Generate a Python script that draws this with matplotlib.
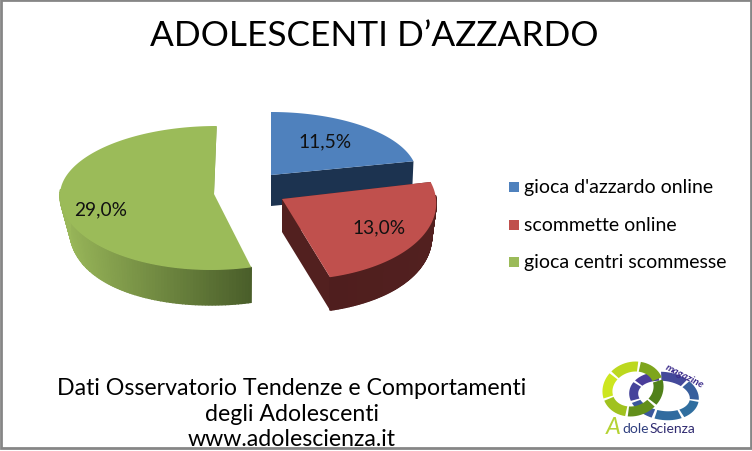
"""Adolescenti d'azzardo: exploded 3D-look pie drawn on a pixel canvas."""

import numpy as np
from matplotlib import pyplot as plt
from matplotlib.colors import to_rgb
from matplotlib.patches import Polygon, Rectangle

plt.rcParams["font.family"] = ["Lato", "DejaVu Sans"]

labels = ["gioca d'azzardo online", "scommette online", "gioca centri scommesse"]
values = [11.5, 13.0, 29.0]
value_labels = ["11,5%", "13,0%", "29,0%"]
top_colors = ["#4f81bd", "#c0504d", "#9bbb59"]
title = "ADOLESCENTI D\u2019AZZARDO"
source_lines = ["Dati Osservatorio Tendenze e Comportamenti",
                "degli Adolescenti", "www.adolescienza.it"]

# per-slice geometry: apex x, y, rx, ry up, ry down, shear, depth, rim shrink
geom = [
    (271, 176, 146, 63, 64, 0.00, 31, 0.99),
    (282, 200, 154, 78, 81, 0.10, 33, 0.97),
    (214, 195, 154, 68, 76, -0.04, 35, 0.935),
]
# side shading: left colour, right colour
side_cols = [("#1c3350", "#1c3350"), ("#4f1e1e", "#52201f"), ("#9ab85a", "#4a5e2a")]


def rim(theta, g, lower=False):
    """Points on a slice rim, theta in degrees clockwise from 12 o'clock."""
    x0, y0, rx, ry_up, ry_dn, shear, depth, shrink = g
    t = np.radians(theta)
    s, c = np.sin(t), np.cos(t)
    dy = np.where(c > 0, -c * ry_up, -c * ry_dn)
    dx = s * rx + shear * dy
    if lower:
        # base narrows towards the far left and right only
        return x0 + dx - (1 - shrink) * rx * s**3, y0 + dy + depth
    return x0 + dx, y0 + dy


def mix(c1, c2, f):
    a, b = np.array(to_rgb(c1)), np.array(to_rgb(c2))
    return tuple(a + (b - a) * f)


fig = plt.figure(figsize=(7.52, 4.52), dpi=100)
ax = fig.add_axes([0, 0, 1, 1])
ax.set_xlim(0, 752)
ax.set_ylim(452, 0)
ax.axis("off")

edges = np.cumsum([0] + values) / sum(values) * 360

for i in [2, 0, 1]:
    g = geom[i]
    a0, a1 = edges[i], edges[i + 1]
    x0, y0, depth = g[0], g[1], g[6]
    th = np.linspace(a0, a1, 160)
    xt, yt = rim(th, g)
    xb, yb = rim(th, g, lower=True)

    # cut faces, apex down to the base
    apex_low = (x0, y0 + depth)
    dark = side_cols[i][1]
    if i == 2:
        ax.add_patch(Polygon([(x0, y0), (xt[-1], yt[-1]), (xt[-1] - 2, yt[-1] + 4), (x0 - 1, y0 + 4)],
                             fc="#7d9a49", ec="none", zorder=2))
    else:
        ax.add_patch(Polygon([(x0, y0), (xt[0], yt[0]), (xb[0], yb[0]), apex_low],
                             fc=dark, ec="none", zorder=i * 3 + 3))
        ax.add_patch(Polygon([(x0, y0), (xt[-1], yt[-1]), (xb[-1], yb[-1]), apex_low],
                             fc=dark, ec="none", zorder=i * 3 + 3))

    # outer wall in thin strips for the shading
    xmin, xmax = xt.min(), xt.max()
    for k in range(len(th) - 1):
        if np.cos(np.radians(th[k])) > 0.05:
            continue
        f = (xt[k] - xmin) / (xmax - xmin)
        col = mix(side_cols[i][0], side_cols[i][1], f)
        ax.add_patch(Polygon([(xt[k], yt[k]), (xt[k + 1], yt[k + 1]),
                              (xb[k + 1], yb[k + 1]), (xb[k], yb[k])],
                             fc=col, ec=col, lw=1.0, zorder=i * 3 + 3))

    top = np.column_stack([np.r_[x0, xt], np.r_[y0, yt]])
    ax.add_patch(Polygon(top, fc=top_colors[i], ec="none", zorder=i * 3 + 4))

label_pos = [(325, 142), (379, 228), (101, 210)]
for (lx, ly), txt in zip(label_pos, value_labels):
    ax.text(lx, ly, txt, fontsize=13.8, ha="center", va="center", color="#111111", zorder=20)

ax.text(374, 36, title, fontsize=25.4, ha="center", va="center", color="black")

# legend
legend_y = [188, 226, 263]
for y, col, lab in zip(legend_y, top_colors, labels):
    ax.add_patch(Rectangle((509, y - 5), 10, 10, fc=col, ec="none"))
    ax.text(524, y, lab, fontsize=14, ha="left", va="center", color="black")

# source note
for y, line in zip([389, 415, 440], source_lines):
    ax.text(292, y, line, fontsize=16.7, ha="center", va="center", color="black")


# logo: two chains of shaded blocks
def ring(cx, cy, rx, ry, width, tilt, c1, c2, n, z):
    tilt = np.radians(tilt)
    step = 360 / n
    for j in range(n):
        t = np.radians(np.linspace(j * step + 2.5, (j + 1) * step - 2.5, 12))
        ox, oy = rx * np.cos(t), ry * np.sin(t)
        ix, iy = (rx - width) * np.cos(t), (ry - width) * np.sin(t)
        px = np.r_[ox, ix[::-1]]
        py = np.r_[oy, iy[::-1]]
        xr = cx + px * np.cos(tilt) - py * np.sin(tilt)
        yr = cy + px * np.sin(tilt) + py * np.cos(tilt)
        col = mix(c1, c2, 0.5 + 0.5 * np.sin(t.mean() + 0.8))
        ax.add_patch(Polygon(np.column_stack([xr, yr]), fc=col, ec="none", zorder=z))


ring(664, 397, 35, 24, 9, 8, "#4a3d9a", "#2f6f9f", 7, 30)
ring(633, 390, 31, 27, 10, -20, "#cfe820", "#4f7f1a", 6, 31)
ax.text(684, 376, "magazine", fontsize=7.5, rotation=-27, fontweight="bold", style="italic",
        ha="center", va="center", color="#3a2a8a", zorder=32)
ax.text(613, 428, "A", fontsize=17, style="italic", ha="center", va="center", color="#b5d334", zorder=32)
ax.text(622, 429, "dole", fontsize=10, ha="left", va="center", color="#2f3f7f", zorder=32)
ax.text(650, 429, "Scienza", fontsize=10, ha="left", va="center", color="#2f2a70", zorder=32)

# grey frame
ax.add_patch(Rectangle((1, 1), 749.5, 448, fc="none", ec="#868686", lw=2, zorder=40))

fig.savefig("out.png", dpi=100)
plt.close(fig)
